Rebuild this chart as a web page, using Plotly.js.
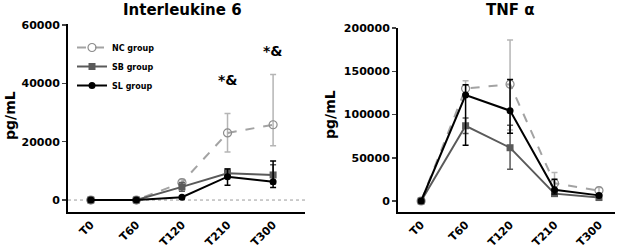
<!DOCTYPE html>
<html>
<head>
<meta charset="utf-8">
<script src="https://cdn.plot.ly/plotly-3.0.1.min.js"></script>
<style>html,body{margin:0;padding:0;background:#fff;}#chart{width:624px;height:250px;}</style>
</head>
<body>
<div id="chart"></div>
<script>
// ---- data ----
const categories = ['T0', 'T60', 'T120', 'T210', 'T300'];

// Interleukine 6 (pg/mL)
const il6_NC = [0, 0, 6000, 23000, 25800];
const il6_NC_errUp = [0, 300, 1000, 6700, 17200];
const il6_NC_errDown = [0, 300, 1000, 6500, 7200];
const il6_SB = [0, 0, 4500, 9200, 8600];
const il6_SB_errUp = [0, 200, 1500, 1400, 3500];
const il6_SB_errDown = [0, 200, 1500, 1400, 3000];
const il6_SL = [0, 0, 950, 8000, 6300];
const il6_SL_errUp = [0, 200, 500, 2600, 7100];
const il6_SL_errDown = [0, 200, 500, 2900, 2000];

// TNF alpha (pg/mL)
const tnf_NC = [0, 130000, 135000, 20500, 12000];
const tnf_NC_errUp = [1500, 9000, 51000, 12500, 3500];
const tnf_NC_errDown = [1500, 9000, 53000, 8000, 3000];
const tnf_SB = [0, 87000, 61600, 8500, 4000];
const tnf_SB_errUp = [1000, 9000, 26000, 3000, 1500];
const tnf_SB_errDown = [1000, 9000, 25000, 3000, 1500];
const tnf_SL = [0, 122500, 104400, 13000, 6500];
const tnf_SL_errUp = [1000, 12000, 36000, 12000, 2000];
const tnf_SL_errDown = [1000, 58000, 26000, 5000, 2000];

const groupNames = ['NC group', 'SB group', 'SL group'];
const il6Ticks = [0, 20000, 40000, 60000];
const tnfTicks = [0, 50000, 100000, 150000, 200000];
const sigLabel = '*&';
const sigCategories = ['T210', 'T300'];
const sigValues = [41000, 51000];

// ---- styles ----
const FONT = 'DejaVu Sans, Liberation Sans, Arial, sans-serif';
const styles = [
  {line: {color: '#a3a3a3', width: 2, dash: 'dash'}, marker: {symbol: 'circle-open', size: 8, color: '#8c8c8c', line: {width: 1.2, color: '#8c8c8c'}}, err: '#b5b5b5'},
  {line: {color: '#5a5a5a', width: 2}, marker: {symbol: 'square', size: 7, color: '#5a5a5a'}, err: '#5a5a5a'},
  {line: {color: '#000000', width: 2}, marker: {symbol: 'circle', size: 7, color: '#000000'}, err: '#000000'}
];

function mk(y, up, down, i, xa, ya, showleg) {
  return {
    x: categories, y: y, type: 'scatter', mode: 'lines+markers',
    name: groupNames[i], xaxis: xa, yaxis: ya, showlegend: showleg,
    line: styles[i].line, marker: styles[i].marker,
    error_y: {type: 'data', symmetric: false, array: up, arrayminus: down,
              color: styles[i].err, thickness: 1.5, width: 3}
  };
}

const data = [
  mk(il6_NC, il6_NC_errUp, il6_NC_errDown, 0, 'x', 'y', true),
  mk(il6_SB, il6_SB_errUp, il6_SB_errDown, 1, 'x', 'y', true),
  mk(il6_SL, il6_SL_errUp, il6_SL_errDown, 2, 'x', 'y', true),
  mk(tnf_NC, tnf_NC_errUp, tnf_NC_errDown, 0, 'x2', 'y2', false),
  mk(tnf_SB, tnf_SB_errUp, tnf_SB_errDown, 1, 'x2', 'y2', false),
  mk(tnf_SL, tnf_SL_errUp, tnf_SL_errDown, 2, 'x2', 'y2', false)
];

const tickFont = {family: FONT, size: 11, color: '#000', weight: 'bold'};
const axBase = {showline: true, linewidth: 2, linecolor: '#000', showgrid: false, zeroline: false,
                tickfont: tickFont, fixedrange: true};

const W = 624, H = 250;
const layout = {
  width: W, height: H,
  margin: {l: 0, r: 0, t: 0, b: 0},
  paper_bgcolor: '#fff', plot_bgcolor: '#fff',
  showlegend: true,
  legend: {x: 72 / W, y: 1 - 33 / H, xanchor: 'left', yanchor: 'top',
           font: {family: FONT, size: 8, color: '#000', weight: 'bold'},
           bgcolor: 'rgba(0,0,0,0)', itemwidth: 30, tracegroupgap: 0},
  xaxis: Object.assign({}, axBase, {domain: [68 / W, 305 / W], type: 'category', range: [-0.5, 4.7],
                                    tickangle: -45, ticks: '', anchor: 'y'}),
  yaxis: Object.assign({}, axBase, {domain: [38 / H, 226 / H], range: [-4100, 60343], tickformat: 'd',
                                    tickvals: il6Ticks, ticks: 'outside', ticklen: 4, tickwidth: 1.5, anchor: 'x'}),
  xaxis2: Object.assign({}, axBase, {domain: [398 / W, 615 / W], type: 'category', range: [-0.52, 4.36],
                                     tickangle: -45, ticks: '', anchor: 'y2'}),
  yaxis2: Object.assign({}, axBase, {domain: [38 / H, 222 / H], range: [-12717, 200000], tickformat: 'd',
                                     tickvals: tnfTicks, ticks: 'outside', ticklen: 4, tickwidth: 1.5, anchor: 'x2'}),
  shapes: [
    {type: 'line', xref: 'x domain', yref: 'y', x0: 0, x1: 1, y0: 0, y1: 0,
     line: {color: '#9a9a9a', width: 1, dash: 'dot'}, layer: 'below'}
  ],
  annotations: [
    {text: 'Interleukine 6', xref: 'paper', yref: 'paper', x: 182 / W, y: 1 - 10 / H, showarrow: false,
     xanchor: 'center', yanchor: 'middle', font: {family: FONT, size: 15, color: '#000', weight: 'bold'}},
    {text: 'TNF α', xref: 'paper', yref: 'paper', x: 510 / W, y: 1 - 10 / H, showarrow: false,
     xanchor: 'center', yanchor: 'middle', font: {family: FONT, size: 15, color: '#000', weight: 'bold'}},
    {text: 'pg/mL', xref: 'paper', yref: 'paper', x: 10 / W, y: 1 - 116 / H, showarrow: false, textangle: -90,
     xanchor: 'center', yanchor: 'middle', font: {family: FONT, size: 14, color: '#000', weight: 'bold'}},
    {text: 'pg/mL', xref: 'paper', yref: 'paper', x: 330 / W, y: 1 - 115 / H, showarrow: false, textangle: -90,
     xanchor: 'center', yanchor: 'middle', font: {family: FONT, size: 14, color: '#000', weight: 'bold'}}
  ].concat(sigCategories.map((c, i) => ({
    text: sigLabel, xref: 'x', yref: 'y', x: c, y: sigValues[i], showarrow: false,
    xanchor: 'center', yanchor: 'middle', font: {family: FONT, size: 14, color: '#000', weight: 'bold'}
  })))
};

Plotly.newPlot('chart', data, layout, {staticPlot: true, displayModeBar: false});
</script>
</body>
</html>
